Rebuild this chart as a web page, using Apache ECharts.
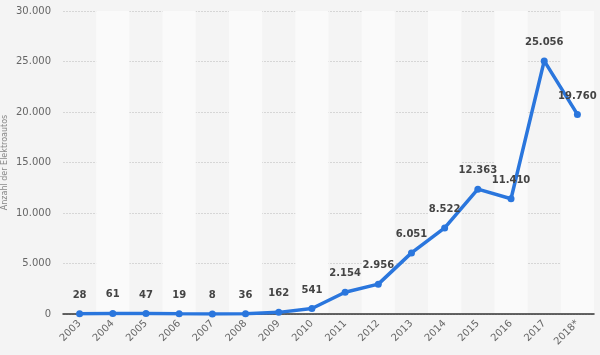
<!DOCTYPE html>
<html><head><meta charset="utf-8">
<script src="https://cdn.jsdelivr.net/npm/echarts@6/dist/echarts.min.js"></script>
<style>html,body{margin:0;padding:0;background:#f4f4f4;}#c{width:600px;height:355px;}</style>
</head><body><div id="c"></div>
<script>
const years = ['2003','2004','2005','2006','2007','2008','2009','2010','2011','2012','2013','2014','2015','2016','2017','2018*'];
const values = [28, 61, 47, 19, 8, 36, 162, 541, 2154, 2956, 6051, 8522, 12363, 11410, 25056, 19760];
const yTicks = [0, 5000, 10000, 15000, 20000, 25000, 30000];
const yAxisTitle = 'Anzahl der Elektroautos';

function fmt(v){ return String(v).replace(/\B(?=(\d{3})+(?!\d))/g, '.'); }

const chart = echarts.init(document.getElementById('c'));
chart.setOption({
  backgroundColor: '#f4f4f4',
  animation: false,
  grid: { left: 63, right: 6, top: 11, bottom: 41, containLabel: false, outerBoundsMode: 'none' },
  xAxis: {
    type: 'category', data: years, boundaryGap: true,
    axisLine: { lineStyle: { color: '#333', width: 1.5 } },
    axisTick: { show: false },
    axisLabel: { rotate: 45, color: '#666', fontSize: 10, fontFamily: 'DejaVu Sans', margin: 8 },
    splitArea: { show: true, areaStyle: { color: ['rgba(0,0,0,0)', '#fafafa'] } },
    splitLine: { show: false }
  },
  yAxis: {
    type: 'value', min: yTicks[0], max: yTicks[yTicks.length-1], interval: 5000,
    name: yAxisTitle, nameLocation: 'middle', nameGap: 54, nameMoveOverlap: false,
    nameTextStyle: { color: '#888', fontSize: 8, fontFamily: 'DejaVu Sans' },
    axisLine: { show: false }, axisTick: { show: false },
    axisLabel: { color: '#666', fontSize: 10, fontFamily: 'DejaVu Sans', margin: 12, formatter: fmt },
    splitLine: { lineStyle: { color: '#d6d6d6', type: [2, 1], width: 1 } }
  },
  series: [{
    type: 'line', data: values,
    symbol: 'circle', symbolSize: 7,
    lineStyle: { color: '#2a76dd', width: 3.5 },
    itemStyle: { color: '#2a76dd' },
    label: { show: true, position: 'top', distance: 10, color: '#444', fontWeight: 'bold', fontSize: 10, fontFamily: 'DejaVu Sans', formatter: p => fmt(p.value) },
    z: 3
  }]
});
</script></body></html>
